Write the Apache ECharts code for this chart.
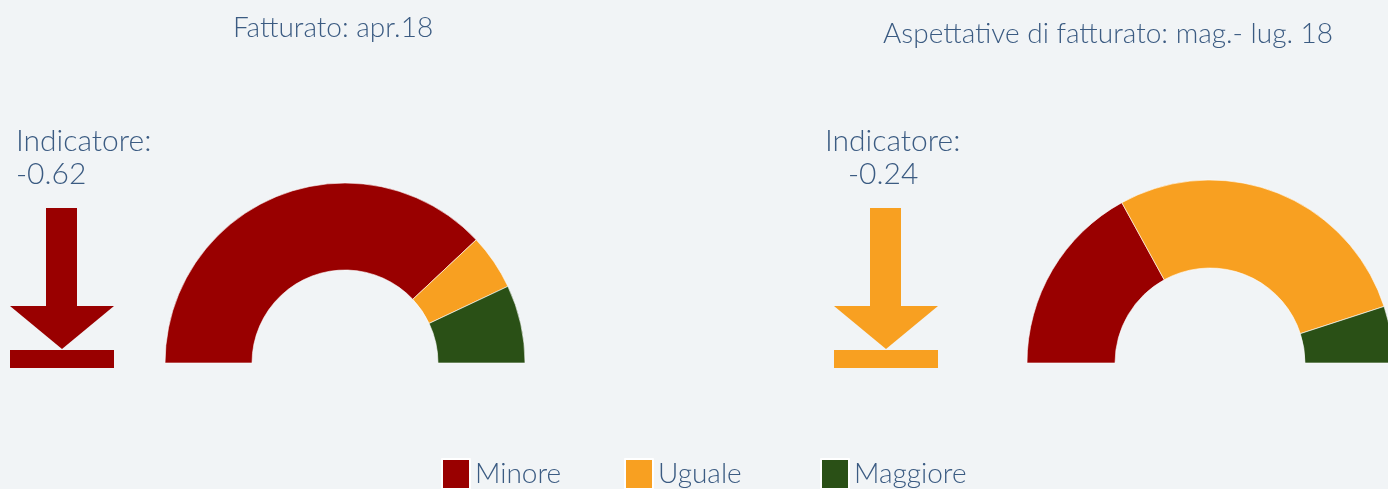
<!DOCTYPE html>
<html>
<head>
<meta charset="utf-8">
<script src="https://cdn.jsdelivr.net/npm/echarts@6/dist/echarts.min.js"></script>
<style>
  html, body { margin: 0; padding: 0; background: #f1f4f6; }
  #chart { width: 1388px; height: 489px; }
</style>
</head>
<body>
<div id="chart"></div>
<script>
// categorie e valori (%)
var categories = ['Minore', 'Uguale', 'Maggiore'];
var catColors = ['#990000', '#f8a021', '#2a5016'];
var fatturatoApr = [76, 10, 14];
var aspettative = [34, 56, 10];
var titles = ['Fatturato: apr.18', 'Aspettative di fatturato: mag.- lug. 18'];
var indicatori = ['-0.62', '-0.24'];
var arrowColors = ['#990000', '#f8a021'];

var textColor = '#3b5b82';
var font = 'Lato';

function toData(vals) {
  return vals.map(function (v, i) {
    return { name: categories[i], value: v, itemStyle: { color: catColors[i] } };
  });
}

// freccia verso il basso con barra
function arrow(x, color) {
  return {
    type: 'group',
    left: x,
    top: 208,
    children: [
      { type: 'rect', shape: { x: 36, y: 0, width: 31, height: 99 }, style: { fill: color } },
      { type: 'polygon', shape: { points: [[0, 98], [104, 98], [52, 141]] }, style: { fill: color } },
      { type: 'rect', shape: { x: 0, y: 142, width: 104, height: 18 }, style: { fill: color } }
    ]
  };
}

// una legenda per voce, per posizionarle come nell'originale
var legendLefts = [436, 619, 815];
var legends = categories.map(function (c, i) {
  return {
    data: [c],
    left: legendLefts[i],
    top: 453,
    icon: 'rect',
    itemWidth: 28,
    itemHeight: 30,
    selectedMode: false,
    textStyle: { color: textColor, fontFamily: font, fontWeight: 300, fontSize: 28 }
  };
});

var chart = echarts.init(document.getElementById('chart'));
var option = {
  backgroundColor: '#f1f4f6',
  title: [
    { text: titles[0], left: 328, top: 9, textAlign: 'center',
      textStyle: { color: textColor, fontFamily: font, fontWeight: 300, fontSize: 28 } },
    { text: titles[1], left: 1103, top: 15, textAlign: 'center',
      textStyle: { color: textColor, fontFamily: font, fontWeight: 300, fontSize: 28 } }
  ],
  legend: legends,
  graphic: [
    { type: 'text', left: 16, top: 126,
      style: { text: 'Indicatore:', fill: textColor, font: '300 30px Lato' } },
    { type: 'text', left: 16, top: 159,
      style: { text: indicatori[0], fill: textColor, font: '300 30px Lato' } },
    { type: 'text', left: 825, top: 126,
      style: { text: 'Indicatore:', fill: textColor, font: '300 30px Lato' } },
    { type: 'text', left: 848, top: 159,
      style: { text: indicatori[1], fill: textColor, font: '300 30px Lato' } },
    arrow(10, arrowColors[0]),
    arrow(834, arrowColors[1])
  ],
  series: [
    {
      type: 'pie',
      center: [345, 363],
      radius: [93, 180],
      startAngle: 180,
      endAngle: 0,
      label: { show: false },
      labelLine: { show: false },
      emphasis: { disabled: true },
      itemStyle: { borderColor: '#ffffff', borderWidth: 0.6 },
      data: toData(fatturatoApr)
    },
    {
      type: 'pie',
      center: [1210, 363],
      radius: [95, 183],
      startAngle: 180,
      endAngle: 0,
      label: { show: false },
      labelLine: { show: false },
      emphasis: { disabled: true },
      itemStyle: { borderColor: '#ffffff', borderWidth: 0.6 },
      data: toData(aspettative)
    }
  ]
};
chart.setOption(option);
</script>
</body>
</html>
